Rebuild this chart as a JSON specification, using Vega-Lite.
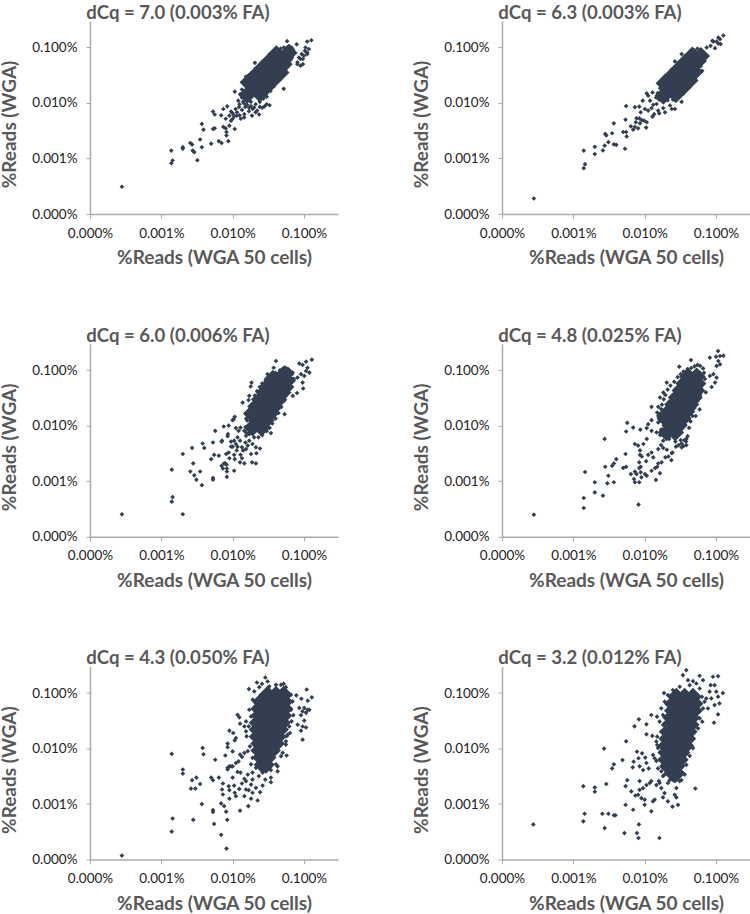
{"$schema":"https://vega.github.io/schema/vega-lite/v6.json","padding":{"left":0,"top":3,"right":0,"bottom":0},"background":"white","columns":2,"spacing":{"row":57.8,"column":74},
"config":{"view":{"stroke":null},"axis":{"grid":false,"domainColor":"#aaaaaa","domainWidth":1.5,"tickColor":"#aaaaaa","tickSize":4,"labelFont":"Lato","labelFontSize":13.5,"labelColor":"#222222","labelBound":false,"labelFlush":false,"titleFont":"Lato","titleFontSize":19,"titleFontWeight":"bold","titleColor":"#595959"},"axisX":{"labelPadding":8,"titlePadding":9},"axisY":{"labelPadding":9,"titlePadding":11.7},"title":{"font":"Lato","fontSize":18.6,"fontWeight":"bold","color":"#595959","dx":-36,"offset":-1.45}},
"datasets":{
"c1":[{"x":0.016,"y":0.014},{"x":0.02,"y":0.0187},{"x":0.025,"y":0.025},{"x":0.0313,"y":0.0334},{"x":0.039,"y":0.0446},{"x":0.049,"y":0.06},{"x":0.061,"y":0.08},{"x":0.0167,"y":0.0236},{"x":0.0209,"y":0.0315},{"x":0.026,"y":0.042},{"x":0.0326,"y":0.056},{"x":0.041,"y":0.076},{"x":0.024,"y":0.0148},{"x":0.03,"y":0.0198},{"x":0.0375,"y":0.0265},{"x":0.047,"y":0.0354},{"x":0.052,"y":0.05}],
"p1":[{"x":0.00028,"y":0.00031},{"x":0.00138,"y":0.00139},{"x":0.00138,"y":0.00082},{"x":0.00144,"y":0.00092},{"x":0.002,"y":0.0016},{"x":0.002,"y":0.0015},{"x":0.00255,"y":0.0019},{"x":0.0027,"y":0.00178},{"x":0.00275,"y":0.00139},{"x":0.0029,"y":0.0013},{"x":0.0032,"y":0.00093},{"x":0.0035,"y":0.0022},{"x":0.0037,"y":0.0016},{"x":0.0037,"y":0.0042},{"x":0.0039,"y":0.0033},{"x":0.005,"y":0.00185},{"x":0.0053,"y":0.007},{"x":0.0056,"y":0.0062},{"x":0.0053,"y":0.0034},{"x":0.0056,"y":0.0035},{"x":0.0064,"y":0.00205},{"x":0.007,"y":0.0019},{"x":0.0069,"y":0.006},{"x":0.0074,"y":0.0078},{"x":0.0074,"y":0.0037},{"x":0.008,"y":0.0035},{"x":0.009,"y":0.0039},{"x":0.0082,"y":0.0026},{"x":0.0082,"y":0.003},{"x":0.0087,"y":0.00205},{"x":0.0084,"y":0.0087},{"x":0.008,"y":0.0052},{"x":0.009,"y":0.0059},{"x":0.0095,"y":0.0048},{"x":0.0107,"y":0.0034},{"x":0.0107,"y":0.016},{"x":0.01,"y":0.0052},{"x":0.0114,"y":0.0059},{"x":0.0123,"y":0.0085},{"x":0.013,"y":0.0052},{"x":0.0146,"y":0.0063},{"x":0.0169,"y":0.0071},{"x":0.0187,"y":0.0059},{"x":0.021,"y":0.0068},{"x":0.0235,"y":0.0062},{"x":0.0154,"y":0.03},{"x":0.0205,"y":0.053},{"x":0.052,"y":0.018},{"x":0.033,"y":0.0091},{"x":0.058,"y":0.13},{"x":0.079,"y":0.114},{"x":0.127,"y":0.135},{"x":0.111,"y":0.128},{"x":0.081,"y":0.05},{"x":0.0895,"y":0.047},{"x":0.0967,"y":0.05},{"x":0.0895,"y":0.062},{"x":0.1,"y":0.071},{"x":0.111,"y":0.081},{"x":0.117,"y":0.094},{"x":0.105,"y":0.1},{"x":0.111,"y":0.076},{"x":0.085,"y":0.066},{"x":0.093,"y":0.076},{"x":0.103,"y":0.087},{"x":0.081,"y":0.054},{"x":0.0967,"y":0.062},{"x":0.012,"y":0.011},{"x":0.0125,"y":0.0095},{"x":0.014,"y":0.0105},{"x":0.0135,"y":0.0075},{"x":0.015,"y":0.0085},{"x":0.016,"y":0.0093},{"x":0.017,"y":0.0082},{"x":0.018,"y":0.0088},{"x":0.019,"y":0.0078},{"x":0.02,"y":0.0083},{"x":0.022,"y":0.0073},{"x":0.024,"y":0.0085},{"x":0.026,"y":0.0082},{"x":0.028,"y":0.0087},{"x":0.03,"y":0.0095},{"x":0.0115,"y":0.0068},{"x":0.0125,"y":0.006},{"x":0.0145,"y":0.0055},{"x":0.011,"y":0.0078},{"x":0.01,"y":0.0065},{"x":0.0105,"y":0.0058},{"x":0.0095,"y":0.007},{"x":0.0128,"y":0.0145},{"x":0.0135,"y":0.0175},{"x":0.0148,"y":0.021},{"x":0.016,"y":0.025},{"x":0.0178,"y":0.029},{"x":0.019,"y":0.034},{"x":0.021,"y":0.04},{"x":0.024,"y":0.046},{"x":0.027,"y":0.054},{"x":0.03,"y":0.062},{"x":0.034,"y":0.072},{"x":0.038,"y":0.078},{"x":0.043,"y":0.085},{"x":0.047,"y":0.095},{"x":0.052,"y":0.1},{"x":0.057,"y":0.098},{"x":0.062,"y":0.105},{"x":0.067,"y":0.1},{"x":0.07,"y":0.092},{"x":0.07,"y":0.075},{"x":0.068,"y":0.066},{"x":0.065,"y":0.06},{"x":0.062,"y":0.052},{"x":0.058,"y":0.044},{"x":0.054,"y":0.04},{"x":0.05,"y":0.034},{"x":0.046,"y":0.028},{"x":0.042,"y":0.024},{"x":0.038,"y":0.02},{"x":0.034,"y":0.0165},{"x":0.03,"y":0.013},{"x":0.027,"y":0.012},{"x":0.024,"y":0.0105},{"x":0.021,"y":0.0095},{"x":0.018,"y":0.0105},{"x":0.016,"y":0.0112},{"x":0.0135,"y":0.0125},{"x":0.0145,"y":0.0098}],
"c2":[{"x":0.0183,"y":0.0135},{"x":0.0229,"y":0.018},{"x":0.0286,"y":0.024},{"x":0.0358,"y":0.0321},{"x":0.0447,"y":0.0429},{"x":0.056,"y":0.0573},{"x":0.062,"y":0.07},{"x":0.019,"y":0.0227},{"x":0.0239,"y":0.0302},{"x":0.0299,"y":0.0404},{"x":0.0373,"y":0.054},{"x":0.0467,"y":0.072},{"x":0.0274,"y":0.0143},{"x":0.0342,"y":0.019},{"x":0.0428,"y":0.0255},{"x":0.05,"y":0.036}],
"p2":[{"x":0.00028,"y":0.00019},{"x":0.0014,"y":0.00139},{"x":0.00146,"y":0.00079},{"x":0.0014,"y":0.00067},{"x":0.002,"y":0.00162},{"x":0.002,"y":0.0012},{"x":0.0026,"y":0.0014},{"x":0.00275,"y":0.0017},{"x":0.0031,"y":0.00197},{"x":0.0028,"y":0.00277},{"x":0.0029,"y":0.0026},{"x":0.0035,"y":0.00285},{"x":0.0037,"y":0.0043},{"x":0.0037,"y":0.0018},{"x":0.004,"y":0.00176},{"x":0.005,"y":0.003},{"x":0.0055,"y":0.003},{"x":0.0056,"y":0.0025},{"x":0.0053,"y":0.0015},{"x":0.0054,"y":0.005},{"x":0.0055,"y":0.0088},{"x":0.0064,"y":0.0038},{"x":0.0069,"y":0.0033},{"x":0.0073,"y":0.0037},{"x":0.0075,"y":0.0045},{"x":0.0081,"y":0.0035},{"x":0.0086,"y":0.0043},{"x":0.0091,"y":0.0049},{"x":0.0084,"y":0.0053},{"x":0.0077,"y":0.0053},{"x":0.0098,"y":0.0048},{"x":0.0107,"y":0.0045},{"x":0.0105,"y":0.0036},{"x":0.0073,"y":0.0084},{"x":0.0084,"y":0.0086},{"x":0.0094,"y":0.011},{"x":0.0088,"y":0.0068},{"x":0.0101,"y":0.0078},{"x":0.0112,"y":0.0073},{"x":0.0107,"y":0.0149},{"x":0.0112,"y":0.0135},{"x":0.0129,"y":0.0155},{"x":0.0119,"y":0.011},{"x":0.0132,"y":0.0093},{"x":0.0125,"y":0.0081},{"x":0.0129,"y":0.0057},{"x":0.0136,"y":0.0063},{"x":0.0155,"y":0.0073},{"x":0.016,"y":0.0065},{"x":0.0193,"y":0.0068},{"x":0.024,"y":0.0078},{"x":0.0266,"y":0.0078},{"x":0.0227,"y":0.009},{"x":0.033,"y":0.0105},{"x":0.0182,"y":0.0081},{"x":0.0147,"y":0.0096},{"x":0.0164,"y":0.0118},{"x":0.127,"y":0.164},{"x":0.108,"y":0.151},{"x":0.114,"y":0.141},{"x":0.102,"y":0.128},{"x":0.116,"y":0.115},{"x":0.092,"y":0.128},{"x":0.084,"y":0.107},{"x":0.097,"y":0.097},{"x":0.108,"y":0.118},{"x":0.074,"y":0.1},{"x":0.089,"y":0.132},{"x":0.064,"y":0.038},{"x":0.033,"y":0.076},{"x":0.0266,"y":0.056},{"x":0.0165,"y":0.0185},{"x":0.0175,"y":0.0225},{"x":0.019,"y":0.027},{"x":0.021,"y":0.032},{"x":0.024,"y":0.038},{"x":0.027,"y":0.045},{"x":0.03,"y":0.052},{"x":0.034,"y":0.06},{"x":0.038,"y":0.07},{"x":0.044,"y":0.08},{"x":0.05,"y":0.088},{"x":0.055,"y":0.095},{"x":0.061,"y":0.092},{"x":0.066,"y":0.078},{"x":0.067,"y":0.066},{"x":0.064,"y":0.055},{"x":0.061,"y":0.046},{"x":0.056,"y":0.038},{"x":0.05,"y":0.03},{"x":0.045,"y":0.024},{"x":0.04,"y":0.02},{"x":0.035,"y":0.0155},{"x":0.03,"y":0.0125},{"x":0.025,"y":0.0115},{"x":0.021,"y":0.0112},{"x":0.016,"y":0.0115},{"x":0.0145,"y":0.0125},{"x":0.0152,"y":0.015}],
"c3":[{"x":0.019,"y":0.0093},{"x":0.0218,"y":0.0124},{"x":0.0249,"y":0.0166},{"x":0.0285,"y":0.0222},{"x":0.0327,"y":0.0296},{"x":0.0374,"y":0.0396},{"x":0.0428,"y":0.0529},{"x":0.049,"y":0.0707},{"x":0.053,"y":0.0847},{"x":0.0186,"y":0.0166},{"x":0.0213,"y":0.0222},{"x":0.0244,"y":0.0296},{"x":0.028,"y":0.0396},{"x":0.032,"y":0.0529},{"x":0.0366,"y":0.0707},{"x":0.0254,"y":0.0093},{"x":0.0291,"y":0.0124},{"x":0.0333,"y":0.0166},{"x":0.0381,"y":0.0222},{"x":0.0437,"y":0.0296},{"x":0.05,"y":0.0396},{"x":0.055,"y":0.05},{"x":0.058,"y":0.065}],
"p3":[{"x":0.00028,"y":0.000255},{"x":0.0014,"y":0.00162},{"x":0.00144,"y":0.00052},{"x":0.0014,"y":0.00043},{"x":0.002,"y":0.000255},{"x":0.002,"y":0.0031},{"x":0.00255,"y":0.0015},{"x":0.0029,"y":0.00128},{"x":0.0031,"y":0.00107},{"x":0.0035,"y":0.0015},{"x":0.0037,"y":0.00085},{"x":0.0028,"y":0.0021},{"x":0.0027,"y":0.004},{"x":0.0038,"y":0.0048},{"x":0.004,"y":0.004},{"x":0.005,"y":0.0025},{"x":0.0053,"y":0.005},{"x":0.0055,"y":0.003},{"x":0.0064,"y":0.0029},{"x":0.0053,"y":0.00115},{"x":0.0053,"y":0.00107},{"x":0.0057,"y":0.0081},{"x":0.0071,"y":0.0054},{"x":0.0075,"y":0.0097},{"x":0.0088,"y":0.0101},{"x":0.0081,"y":0.0031},{"x":0.0088,"y":0.0033},{"x":0.009,"y":0.0026},{"x":0.0083,"y":0.0012},{"x":0.0083,"y":0.0015},{"x":0.0083,"y":0.0017},{"x":0.0073,"y":0.0017},{"x":0.0076,"y":0.0021},{"x":0.007,"y":0.0019},{"x":0.0079,"y":0.0021},{"x":0.0082,"y":0.002},{"x":0.0105,"y":0.00155},{"x":0.0086,"y":0.0071},{"x":0.0085,"y":0.0065},{"x":0.0095,"y":0.0052},{"x":0.007,"y":0.0052},{"x":0.01,"y":0.0126},{"x":0.0107,"y":0.0145},{"x":0.0103,"y":0.0131},{"x":0.0095,"y":0.0042},{"x":0.01,"y":0.0042},{"x":0.0105,"y":0.003},{"x":0.0107,"y":0.0025},{"x":0.0129,"y":0.003},{"x":0.0135,"y":0.0026},{"x":0.0127,"y":0.0022},{"x":0.0146,"y":0.0021},{"x":0.0187,"y":0.0022},{"x":0.0212,"y":0.0021},{"x":0.0181,"y":0.0031},{"x":0.0215,"y":0.0032},{"x":0.0242,"y":0.0039},{"x":0.0344,"y":0.0074},{"x":0.0535,"y":0.0162},{"x":0.08,"y":0.039},{"x":0.0975,"y":0.047},{"x":0.0696,"y":0.0346},{"x":0.0111,"y":0.0091},{"x":0.0121,"y":0.0081},{"x":0.0129,"y":0.0093},{"x":0.0117,"y":0.0062},{"x":0.0127,"y":0.0054},{"x":0.0111,"y":0.0047},{"x":0.0135,"y":0.0041},{"x":0.0154,"y":0.0038},{"x":0.014,"y":0.0036},{"x":0.0163,"y":0.0044},{"x":0.0151,"y":0.005},{"x":0.0171,"y":0.0054},{"x":0.019,"y":0.0047},{"x":0.0212,"y":0.0041},{"x":0.0117,"y":0.0042},{"x":0.0114,"y":0.0036},{"x":0.0105,"y":0.0054},{"x":0.0146,"y":0.0081},{"x":0.0154,"y":0.0066},{"x":0.0171,"y":0.0071},{"x":0.0405,"y":0.147},{"x":0.129,"y":0.155},{"x":0.107,"y":0.143},{"x":0.0957,"y":0.125},{"x":0.086,"y":0.132},{"x":0.112,"y":0.111},{"x":0.119,"y":0.091},{"x":0.101,"y":0.079},{"x":0.0957,"y":0.06},{"x":0.081,"y":0.074},{"x":0.091,"y":0.085},{"x":0.107,"y":0.097},{"x":0.0376,"y":0.111},{"x":0.0184,"y":0.06},{"x":0.0179,"y":0.051},{"x":0.0138,"y":0.0262},{"x":0.0171,"y":0.0346},{"x":0.0167,"y":0.029},{"x":0.0309,"y":0.085},{"x":0.0622,"y":0.1},{"x":0.0693,"y":0.091},{"x":0.0152,"y":0.0095},{"x":0.016,"y":0.0125},{"x":0.0155,"y":0.0135},{"x":0.0168,"y":0.0155},{"x":0.0172,"y":0.019},{"x":0.0185,"y":0.024},{"x":0.0195,"y":0.03},{"x":0.0205,"y":0.035},{"x":0.022,"y":0.042},{"x":0.024,"y":0.05},{"x":0.026,"y":0.058},{"x":0.029,"y":0.066},{"x":0.032,"y":0.075},{"x":0.036,"y":0.084},{"x":0.04,"y":0.09},{"x":0.046,"y":0.1},{"x":0.05,"y":0.105},{"x":0.056,"y":0.11},{"x":0.06,"y":0.105},{"x":0.065,"y":0.095},{"x":0.068,"y":0.085},{"x":0.072,"y":0.07},{"x":0.066,"y":0.06},{"x":0.063,"y":0.05},{"x":0.06,"y":0.042},{"x":0.056,"y":0.035},{"x":0.052,"y":0.028},{"x":0.048,"y":0.022},{"x":0.044,"y":0.017},{"x":0.04,"y":0.0135},{"x":0.036,"y":0.011},{"x":0.033,"y":0.0092},{"x":0.03,"y":0.008},{"x":0.026,"y":0.0068},{"x":0.023,"y":0.0062},{"x":0.02,"y":0.0062},{"x":0.017,"y":0.0072},{"x":0.0155,"y":0.0075}],
"c4":[{"x":0.0203,"y":0.0076},{"x":0.0229,"y":0.0102},{"x":0.0259,"y":0.0136},{"x":0.0292,"y":0.0181},{"x":0.033,"y":0.0242},{"x":0.0372,"y":0.0323},{"x":0.042,"y":0.0432},{"x":0.0475,"y":0.0577},{"x":0.0536,"y":0.0771},{"x":0.0196,"y":0.0136},{"x":0.0221,"y":0.0181},{"x":0.025,"y":0.0242},{"x":0.0282,"y":0.0323},{"x":0.0318,"y":0.0432},{"x":0.036,"y":0.0577},{"x":0.0406,"y":0.0771},{"x":0.0268,"y":0.0076},{"x":0.0302,"y":0.0102},{"x":0.0342,"y":0.0136},{"x":0.0385,"y":0.0181},{"x":0.0436,"y":0.0242},{"x":0.0491,"y":0.0323},{"x":0.053,"y":0.0432},{"x":0.055,"y":0.0577}],
"p4":[{"x":0.00028,"y":0.00025},{"x":0.00146,"y":0.00147},{"x":0.0014,"y":0.0005},{"x":0.0014,"y":0.00033},{"x":0.002,"y":0.00096},{"x":0.002,"y":0.00063},{"x":0.0026,"y":0.00055},{"x":0.00275,"y":0.0058},{"x":0.0028,"y":0.00183},{"x":0.0031,"y":0.00126},{"x":0.003,"y":0.00092},{"x":0.0037,"y":0.00096},{"x":0.0035,"y":0.0019},{"x":0.0037,"y":0.0021},{"x":0.004,"y":0.0025},{"x":0.005,"y":0.00174},{"x":0.0055,"y":0.00182},{"x":0.0054,"y":0.0031},{"x":0.0055,"y":0.0079},{"x":0.0057,"y":0.0113},{"x":0.0069,"y":0.0093},{"x":0.0087,"y":0.0085},{"x":0.0082,"y":0.00038},{"x":0.0064,"y":0.00135},{"x":0.0073,"y":0.00149},{"x":0.0077,"y":0.00135},{"x":0.0071,"y":0.0011},{"x":0.0073,"y":0.00096},{"x":0.0084,"y":0.00096},{"x":0.0088,"y":0.00145},{"x":0.009,"y":0.00118},{"x":0.0084,"y":0.00173},{"x":0.0088,"y":0.00182},{"x":0.0101,"y":0.00135},{"x":0.0107,"y":0.00126},{"x":0.0125,"y":0.00155},{"x":0.0144,"y":0.00106},{"x":0.0164,"y":0.0014},{"x":0.014,"y":0.00173},{"x":0.015,"y":0.00183},{"x":0.0105,"y":0.0023},{"x":0.0086,"y":0.003},{"x":0.0084,"y":0.0022},{"x":0.0091,"y":0.0028},{"x":0.0112,"y":0.003},{"x":0.0125,"y":0.0033},{"x":0.0132,"y":0.0027},{"x":0.0155,"y":0.0021},{"x":0.0173,"y":0.0022},{"x":0.0073,"y":0.0047},{"x":0.0081,"y":0.0044},{"x":0.0086,"y":0.0036},{"x":0.0096,"y":0.0047},{"x":0.0107,"y":0.0058},{"x":0.0125,"y":0.0126},{"x":0.0155,"y":0.022},{"x":0.0125,"y":0.022},{"x":0.015,"y":0.0173},{"x":0.0155,"y":0.015},{"x":0.0112,"y":0.0107},{"x":0.0107,"y":0.0091},{"x":0.0125,"y":0.0081},{"x":0.0147,"y":0.0076},{"x":0.0164,"y":0.0123},{"x":0.0182,"y":0.0054},{"x":0.017,"y":0.0045},{"x":0.0155,"y":0.0038},{"x":0.0182,"y":0.004},{"x":0.0205,"y":0.0037},{"x":0.024,"y":0.0032},{"x":0.0215,"y":0.0028},{"x":0.0195,"y":0.0027},{"x":0.0245,"y":0.0033},{"x":0.0275,"y":0.0042},{"x":0.032,"y":0.0055},{"x":0.033,"y":0.0048},{"x":0.036,"y":0.0055},{"x":0.0237,"y":0.0024},{"x":0.033,"y":0.0041},{"x":0.107,"y":0.222},{"x":0.127,"y":0.183},{"x":0.114,"y":0.181},{"x":0.1,"y":0.176},{"x":0.108,"y":0.147},{"x":0.114,"y":0.128},{"x":0.102,"y":0.12},{"x":0.082,"y":0.169},{"x":0.092,"y":0.085},{"x":0.082,"y":0.079},{"x":0.102,"y":0.074},{"x":0.097,"y":0.06},{"x":0.087,"y":0.05},{"x":0.072,"y":0.04},{"x":0.059,"y":0.0197},{"x":0.052,"y":0.015},{"x":0.0446,"y":0.153},{"x":0.0306,"y":0.116},{"x":0.059,"y":0.091},{"x":0.0183,"y":0.0396},{"x":0.0204,"y":0.06},{"x":0.0164,"y":0.0323},{"x":0.0155,"y":0.0115},{"x":0.0165,"y":0.0165},{"x":0.016,"y":0.0145},{"x":0.017,"y":0.02},{"x":0.0175,"y":0.024},{"x":0.0185,"y":0.03},{"x":0.0195,"y":0.036},{"x":0.021,"y":0.045},{"x":0.023,"y":0.053},{"x":0.026,"y":0.062},{"x":0.029,"y":0.075},{"x":0.032,"y":0.085},{"x":0.035,"y":0.095},{"x":0.04,"y":0.105},{"x":0.045,"y":0.11},{"x":0.05,"y":0.118},{"x":0.055,"y":0.125},{"x":0.06,"y":0.12},{"x":0.066,"y":0.108},{"x":0.068,"y":0.09},{"x":0.07,"y":0.07},{"x":0.066,"y":0.056},{"x":0.062,"y":0.046},{"x":0.06,"y":0.036},{"x":0.055,"y":0.028},{"x":0.05,"y":0.021},{"x":0.047,"y":0.015},{"x":0.044,"y":0.012},{"x":0.042,"y":0.0092},{"x":0.04,"y":0.0065},{"x":0.038,"y":0.0052},{"x":0.035,"y":0.0043},{"x":0.03,"y":0.0045},{"x":0.027,"y":0.0052},{"x":0.022,"y":0.0058},{"x":0.019,"y":0.0065},{"x":0.017,"y":0.0085},{"x":0.0165,"y":0.0068},{"x":0.0385,"y":0.0045},{"x":0.0385,"y":0.0058}],
"c5":[{"x":0.0309,"y":0.0933},{"x":0.0405,"y":0.0933},{"x":0.0519,"y":0.0933},{"x":0.025,"y":0.0699},{"x":0.0326,"y":0.0699},{"x":0.0427,"y":0.0699},{"x":0.053,"y":0.0699},{"x":0.0236,"y":0.0523},{"x":0.0309,"y":0.0523},{"x":0.0405,"y":0.0523},{"x":0.053,"y":0.0523},{"x":0.0236,"y":0.0392},{"x":0.0309,"y":0.0392},{"x":0.0405,"y":0.0392},{"x":0.0513,"y":0.0392},{"x":0.0224,"y":0.0293},{"x":0.0293,"y":0.0293},{"x":0.0384,"y":0.0293},{"x":0.0491,"y":0.0293},{"x":0.0224,"y":0.022},{"x":0.0293,"y":0.022},{"x":0.0384,"y":0.022},{"x":0.0461,"y":0.022},{"x":0.0224,"y":0.0164},{"x":0.0287,"y":0.0164},{"x":0.0364,"y":0.0164},{"x":0.0427,"y":0.0164},{"x":0.0236,"y":0.0123},{"x":0.0293,"y":0.0123},{"x":0.0364,"y":0.0123},{"x":0.0405,"y":0.0123},{"x":0.0236,"y":0.0092},{"x":0.0293,"y":0.0092},{"x":0.0356,"y":0.0092},{"x":0.025,"y":0.0069},{"x":0.0309,"y":0.0069},{"x":0.0263,"y":0.0051},{"x":0.0293,"y":0.0051}],
"p5":[{"x":0.00028,"y":0.000118},{"x":0.0014,"y":0.008},{"x":0.002,"y":0.0042},{"x":0.002,"y":0.00355},{"x":0.00144,"y":0.00055},{"x":0.0014,"y":0.00032},{"x":0.0038,"y":0.0103},{"x":0.0039,"y":0.0079},{"x":0.0057,"y":0.0063},{"x":0.0031,"y":0.003},{"x":0.0027,"y":0.0027},{"x":0.0035,"y":0.0023},{"x":0.0026,"y":0.0019},{"x":0.003,"y":0.0019},{"x":0.005,"y":0.003},{"x":0.0053,"y":0.0027},{"x":0.0064,"y":0.003},{"x":0.0037,"y":0.001},{"x":0.0028,"y":0.00052},{"x":0.0055,"y":0.00044},{"x":0.0053,"y":0.00078},{"x":0.0053,"y":0.00072},{"x":0.0069,"y":0.00103},{"x":0.0076,"y":0.00092},{"x":0.0081,"y":0.00073},{"x":0.0084,"y":0.00052},{"x":0.0069,"y":0.00028},{"x":0.0082,"y":0.000158},{"x":0.0127,"y":0.00076},{"x":0.0166,"y":0.00092},{"x":0.0079,"y":0.0075},{"x":0.0085,"y":0.0123},{"x":0.0085,"y":0.0106},{"x":0.01,"y":0.0089},{"x":0.009,"y":0.021},{"x":0.0102,"y":0.0191},{"x":0.0107,"y":0.0141},{"x":0.0111,"y":0.0155},{"x":0.0117,"y":0.0407},{"x":0.0124,"y":0.0366},{"x":0.0127,"y":0.0281},{"x":0.0146,"y":0.0251},{"x":0.0154,"y":0.0309},{"x":0.0085,"y":0.0045},{"x":0.009,"y":0.0048},{"x":0.0095,"y":0.0048},{"x":0.0085,"y":0.0042},{"x":0.01,"y":0.003},{"x":0.0117,"y":0.0038},{"x":0.0129,"y":0.0037},{"x":0.0121,"y":0.0059},{"x":0.0111,"y":0.0055},{"x":0.0135,"y":0.0071},{"x":0.0127,"y":0.0078},{"x":0.0146,"y":0.0084},{"x":0.01,"y":0.0048},{"x":0.0073,"y":0.00235},{"x":0.0071,"y":0.00183},{"x":0.0073,"y":0.00149},{"x":0.0088,"y":0.0021},{"x":0.009,"y":0.00178},{"x":0.009,"y":0.00125},{"x":0.0105,"y":0.00216},{"x":0.0107,"y":0.0016},{"x":0.0111,"y":0.00139},{"x":0.0124,"y":0.00188},{"x":0.0146,"y":0.00139},{"x":0.0135,"y":0.00235},{"x":0.0154,"y":0.00183},{"x":0.0168,"y":0.00178},{"x":0.0154,"y":0.00259},{"x":0.0181,"y":0.00225},{"x":0.019,"y":0.0016},{"x":0.0181,"y":0.00125},{"x":0.0224,"y":0.00116},{"x":0.0243,"y":0.00164},{"x":0.019,"y":0.00277},{"x":0.0212,"y":0.00196},{"x":0.0263,"y":0.00216},{"x":0.0344,"y":0.00248},{"x":0.0344,"y":0.003},{"x":0.0287,"y":0.00277},{"x":0.0233,"y":0.0032},{"x":0.019,"y":0.0037},{"x":0.0163,"y":0.0034},{"x":0.0146,"y":0.00285},{"x":0.0287,"y":0.191},{"x":0.0309,"y":0.162},{"x":0.0219,"y":0.155},{"x":0.0258,"y":0.147},{"x":0.0169,"y":0.118},{"x":0.0519,"y":0.147},{"x":0.0476,"y":0.141},{"x":0.109,"y":0.116},{"x":0.129,"y":0.084},{"x":0.078,"y":0.091},{"x":0.092,"y":0.079},{"x":0.086,"y":0.054},{"x":0.101,"y":0.054},{"x":0.112,"y":0.05},{"x":0.119,"y":0.05},{"x":0.0957,"y":0.047},{"x":0.107,"y":0.044},{"x":0.0908,"y":0.04},{"x":0.113,"y":0.073},{"x":0.101,"y":0.032},{"x":0.0815,"y":0.027},{"x":0.0957,"y":0.025},{"x":0.107,"y":0.024},{"x":0.0908,"y":0.021},{"x":0.0957,"y":0.0145},{"x":0.0637,"y":0.0191},{"x":0.0571,"y":0.0167},{"x":0.0571,"y":0.0075},{"x":0.0427,"y":0.0039},{"x":0.0427,"y":0.0048},{"x":0.0558,"y":0.0118},{"x":0.0476,"y":0.0073},{"x":0.0708,"y":0.04},{"x":0.0171,"y":0.0501},{"x":0.0191,"y":0.076},{"x":0.0181,"y":0.038},{"x":0.0168,"y":0.0252},{"x":0.0157,"y":0.0166},{"x":0.0154,"y":0.0205},{"x":0.0175,"y":0.011},{"x":0.0163,"y":0.009},{"x":0.019,"y":0.0068},{"x":0.0181,"y":0.0052},{"x":0.0212,"y":0.0045},{"x":0.0263,"y":0.0037},{"x":0.0201,"y":0.107},{"x":0.0236,"y":0.128},{"x":0.0326,"y":0.132},{"x":0.0405,"y":0.141},{"x":0.0558,"y":0.128},{"x":0.0657,"y":0.093},{"x":0.0693,"y":0.071},{"x":0.0657,"y":0.05},{"x":0.067,"y":0.031},{"x":0.0623,"y":0.025},{"x":0.0589,"y":0.0178},{"x":0.0558,"y":0.0135},{"x":0.0503,"y":0.0084},{"x":0.0405,"y":0.0052},{"x":0.0344,"y":0.0041}],
"c6":[{"x":0.0278,"y":0.0859},{"x":0.0364,"y":0.0859},{"x":0.0476,"y":0.0859},{"x":0.0249,"y":0.0643},{"x":0.0327,"y":0.0643},{"x":0.0428,"y":0.0643},{"x":0.0502,"y":0.0643},{"x":0.0249,"y":0.0482},{"x":0.0327,"y":0.0482},{"x":0.0428,"y":0.0482},{"x":0.0491,"y":0.0482},{"x":0.0236,"y":0.0361},{"x":0.031,"y":0.0361},{"x":0.0405,"y":0.0361},{"x":0.0451,"y":0.0361},{"x":0.0224,"y":0.027},{"x":0.0294,"y":0.027},{"x":0.0384,"y":0.027},{"x":0.0441,"y":0.027},{"x":0.0212,"y":0.0202},{"x":0.0279,"y":0.0202},{"x":0.0364,"y":0.0202},{"x":0.0414,"y":0.0202},{"x":0.0208,"y":0.0151},{"x":0.0263,"y":0.0151},{"x":0.0345,"y":0.0151},{"x":0.0396,"y":0.0151},{"x":0.0201,"y":0.0113},{"x":0.0263,"y":0.0113},{"x":0.0345,"y":0.0113},{"x":0.0372,"y":0.0113},{"x":0.0201,"y":0.0085},{"x":0.0263,"y":0.0085},{"x":0.0327,"y":0.0085},{"x":0.0201,"y":0.0063},{"x":0.0258,"y":0.0063},{"x":0.031,"y":0.0063},{"x":0.0212,"y":0.0048},{"x":0.0279,"y":0.0048},{"x":0.0249,"y":0.0036},{"x":0.0279,"y":0.0036}],
"p6":[{"x":0.000275,"y":0.00043},{"x":0.00138,"y":0.0021},{"x":0.00138,"y":0.00049},{"x":0.00144,"y":0.00067},{"x":0.002,"y":0.002},{"x":0.002,"y":0.00167},{"x":0.00255,"y":0.00067},{"x":0.0031,"y":0.00067},{"x":0.0037,"y":0.00063},{"x":0.0039,"y":0.00063},{"x":0.00275,"y":0.00037},{"x":0.0029,"y":0.0023},{"x":0.0027,"y":0.01},{"x":0.0035,"y":0.0044},{"x":0.0037,"y":0.0052},{"x":0.0049,"y":0.0062},{"x":0.0055,"y":0.0135},{"x":0.0054,"y":0.0021},{"x":0.0057,"y":0.0027},{"x":0.0054,"y":0.00097},{"x":0.0052,"y":0.0003},{"x":0.0078,"y":0.0003},{"x":0.0082,"y":0.000245},{"x":0.0083,"y":0.00043},{"x":0.0161,"y":0.000245},{"x":0.0069,"y":0.00079},{"x":0.01,"y":0.00097},{"x":0.0124,"y":0.00074},{"x":0.0072,"y":0.0252},{"x":0.0083,"y":0.0336},{"x":0.0106,"y":0.0274},{"x":0.0124,"y":0.0403},{"x":0.0149,"y":0.0376},{"x":0.0128,"y":0.0169},{"x":0.0106,"y":0.0181},{"x":0.0078,"y":0.0088},{"x":0.007,"y":0.0058},{"x":0.0068,"y":0.0046},{"x":0.0082,"y":0.0067},{"x":0.0092,"y":0.0082},{"x":0.0085,"y":0.0048},{"x":0.0095,"y":0.0041},{"x":0.0102,"y":0.0069},{"x":0.0106,"y":0.0055},{"x":0.0114,"y":0.0044},{"x":0.0131,"y":0.0077},{"x":0.015,"y":0.0116},{"x":0.0146,"y":0.006},{"x":0.0085,"y":0.0026},{"x":0.0106,"y":0.0022},{"x":0.0124,"y":0.0026},{"x":0.0146,"y":0.0022},{"x":0.0162,"y":0.0024},{"x":0.0065,"y":0.00169},{"x":0.0074,"y":0.00143},{"x":0.0081,"y":0.00147},{"x":0.009,"y":0.00128},{"x":0.01,"y":0.0012},{"x":0.0131,"y":0.00112},{"x":0.0138,"y":0.0012},{"x":0.0085,"y":0.00181},{"x":0.0095,"y":0.00194},{"x":0.0118,"y":0.0024},{"x":0.0171,"y":0.00194},{"x":0.019,"y":0.00158},{"x":0.0212,"y":0.00112},{"x":0.0245,"y":0.0009},{"x":0.0294,"y":0.00097},{"x":0.0279,"y":0.00132},{"x":0.0264,"y":0.00147},{"x":0.0514,"y":0.00191},{"x":0.0181,"y":0.00132},{"x":0.0158,"y":0.0026},{"x":0.019,"y":0.0034},{"x":0.0224,"y":0.0027},{"x":0.0264,"y":0.0026},{"x":0.0327,"y":0.0027},{"x":0.0364,"y":0.0034},{"x":0.0279,"y":0.00194},{"x":0.0384,"y":0.259},{"x":0.0344,"y":0.21},{"x":0.059,"y":0.205},{"x":0.0658,"y":0.171},{"x":0.107,"y":0.202},{"x":0.0908,"y":0.197},{"x":0.125,"y":0.1},{"x":0.0957,"y":0.139},{"x":0.0815,"y":0.106},{"x":0.0731,"y":0.0802},{"x":0.086,"y":0.0802},{"x":0.107,"y":0.086},{"x":0.112,"y":0.0652},{"x":0.0957,"y":0.0609},{"x":0.107,"y":0.0413},{"x":0.0938,"y":0.0293},{"x":0.0773,"y":0.053},{"x":0.0693,"y":0.07},{"x":0.0841,"y":0.139},{"x":0.0187,"y":0.1},{"x":0.053,"y":0.149},{"x":0.0405,"y":0.171},{"x":0.101,"y":0.106},{"x":0.0476,"y":0.164},{"x":0.0643,"y":0.0306},{"x":0.0171,"y":0.0531},{"x":0.0191,"y":0.07},{"x":0.0212,"y":0.092},{"x":0.0249,"y":0.113},{"x":0.031,"y":0.13},{"x":0.0428,"y":0.139},{"x":0.0591,"y":0.121},{"x":0.0636,"y":0.0859},{"x":0.0658,"y":0.053},{"x":0.0591,"y":0.0351},{"x":0.0559,"y":0.0232},{"x":0.0476,"y":0.0153},{"x":0.0476,"y":0.0102},{"x":0.0428,"y":0.0074},{"x":0.0384,"y":0.0051},{"x":0.0345,"y":0.0036},{"x":0.031,"y":0.0026},{"x":0.0212,"y":0.0024},{"x":0.0181,"y":0.0032},{"x":0.0154,"y":0.0044},{"x":0.0138,"y":0.0067},{"x":0.0154,"y":0.0102},{"x":0.0146,"y":0.0134},{"x":0.0171,"y":0.0202},{"x":0.0162,"y":0.0307},{"x":0.0181,"y":0.0402},{"x":0.015,"y":0.0164},{"x":0.0162,"y":0.0063},{"x":0.0171,"y":0.0039}]
},
"concat":[
{"width":248,"height":193,"title":"dCq = 7.0 (0.003% FA)","encoding":{"x":{"field":"x","type":"quantitative","scale":{"type":"log","domain":[0.0001,0.3]},"axis":{"values":[0.0001,0.001,0.01,0.1],"labelExpr":"format(datum.value,'.3f')+'%'","title":"%Reads (WGA 50 cells)"}},"y":{"field":"y","type":"quantitative","scale":{"type":"log","domain":[0.0001,0.3]},"axis":{"values":[0.0001,0.001,0.01,0.1],"labelExpr":"format(datum.value,'.3f')+'%'","title":"%Reads (WGA)","titleY":103}}},"layer":[{"data":{"name":"c1"},"mark":{"type":"point","shape":"diamond","filled":true,"size":320,"color":"#333f50","opacity":1}},{"data":{"name":"p1"},"mark":{"type":"point","shape":"diamond","filled":true,"size":22,"color":"#333f50","opacity":1}}]},
{"width":248,"height":193,"title":"dCq = 6.3 (0.003% FA)","encoding":{"x":{"field":"x","type":"quantitative","scale":{"type":"log","domain":[0.0001,0.3]},"axis":{"values":[0.0001,0.001,0.01,0.1],"labelExpr":"format(datum.value,'.3f')+'%'","title":"%Reads (WGA 50 cells)"}},"y":{"field":"y","type":"quantitative","scale":{"type":"log","domain":[0.0001,0.3]},"axis":{"values":[0.0001,0.001,0.01,0.1],"labelExpr":"format(datum.value,'.3f')+'%'","title":"%Reads (WGA)","titleY":103}}},"layer":[{"data":{"name":"c2"},"mark":{"type":"point","shape":"diamond","filled":true,"size":320,"color":"#333f50","opacity":1}},{"data":{"name":"p2"},"mark":{"type":"point","shape":"diamond","filled":true,"size":22,"color":"#333f50","opacity":1}}]},
{"width":248,"height":193,"title":"dCq = 6.0 (0.006% FA)","encoding":{"x":{"field":"x","type":"quantitative","scale":{"type":"log","domain":[0.0001,0.3]},"axis":{"values":[0.0001,0.001,0.01,0.1],"labelExpr":"format(datum.value,'.3f')+'%'","title":"%Reads (WGA 50 cells)"}},"y":{"field":"y","type":"quantitative","scale":{"type":"log","domain":[0.0001,0.3]},"axis":{"values":[0.0001,0.001,0.01,0.1],"labelExpr":"format(datum.value,'.3f')+'%'","title":"%Reads (WGA)","titleY":103}}},"layer":[{"data":{"name":"c3"},"mark":{"type":"point","shape":"diamond","filled":true,"size":320,"color":"#333f50","opacity":1}},{"data":{"name":"p3"},"mark":{"type":"point","shape":"diamond","filled":true,"size":22,"color":"#333f50","opacity":1}}]},
{"width":248,"height":193,"title":"dCq = 4.8 (0.025% FA)","encoding":{"x":{"field":"x","type":"quantitative","scale":{"type":"log","domain":[0.0001,0.3]},"axis":{"values":[0.0001,0.001,0.01,0.1],"labelExpr":"format(datum.value,'.3f')+'%'","title":"%Reads (WGA 50 cells)"}},"y":{"field":"y","type":"quantitative","scale":{"type":"log","domain":[0.0001,0.3]},"axis":{"values":[0.0001,0.001,0.01,0.1],"labelExpr":"format(datum.value,'.3f')+'%'","title":"%Reads (WGA)","titleY":103}}},"layer":[{"data":{"name":"c4"},"mark":{"type":"point","shape":"diamond","filled":true,"size":320,"color":"#333f50","opacity":1}},{"data":{"name":"p4"},"mark":{"type":"point","shape":"diamond","filled":true,"size":22,"color":"#333f50","opacity":1}}]},
{"width":248,"height":193,"title":"dCq = 4.3 (0.050% FA)","encoding":{"x":{"field":"x","type":"quantitative","scale":{"type":"log","domain":[0.0001,0.3]},"axis":{"values":[0.0001,0.001,0.01,0.1],"labelExpr":"format(datum.value,'.3f')+'%'","title":"%Reads (WGA 50 cells)"}},"y":{"field":"y","type":"quantitative","scale":{"type":"log","domain":[0.0001,0.3]},"axis":{"values":[0.0001,0.001,0.01,0.1],"labelExpr":"format(datum.value,'.3f')+'%'","title":"%Reads (WGA)","titleY":103}}},"layer":[{"data":{"name":"c5"},"mark":{"type":"point","shape":"diamond","filled":true,"size":320,"color":"#333f50","opacity":1}},{"data":{"name":"p5"},"mark":{"type":"point","shape":"diamond","filled":true,"size":22,"color":"#333f50","opacity":1}}]},
{"width":248,"height":193,"title":"dCq = 3.2 (0.012% FA)","encoding":{"x":{"field":"x","type":"quantitative","scale":{"type":"log","domain":[0.0001,0.3]},"axis":{"values":[0.0001,0.001,0.01,0.1],"labelExpr":"format(datum.value,'.3f')+'%'","title":"%Reads (WGA 50 cells)"}},"y":{"field":"y","type":"quantitative","scale":{"type":"log","domain":[0.0001,0.3]},"axis":{"values":[0.0001,0.001,0.01,0.1],"labelExpr":"format(datum.value,'.3f')+'%'","title":"%Reads (WGA)","titleY":103}}},"layer":[{"data":{"name":"c6"},"mark":{"type":"point","shape":"diamond","filled":true,"size":320,"color":"#333f50","opacity":1}},{"data":{"name":"p6"},"mark":{"type":"point","shape":"diamond","filled":true,"size":22,"color":"#333f50","opacity":1}}]}
]}
